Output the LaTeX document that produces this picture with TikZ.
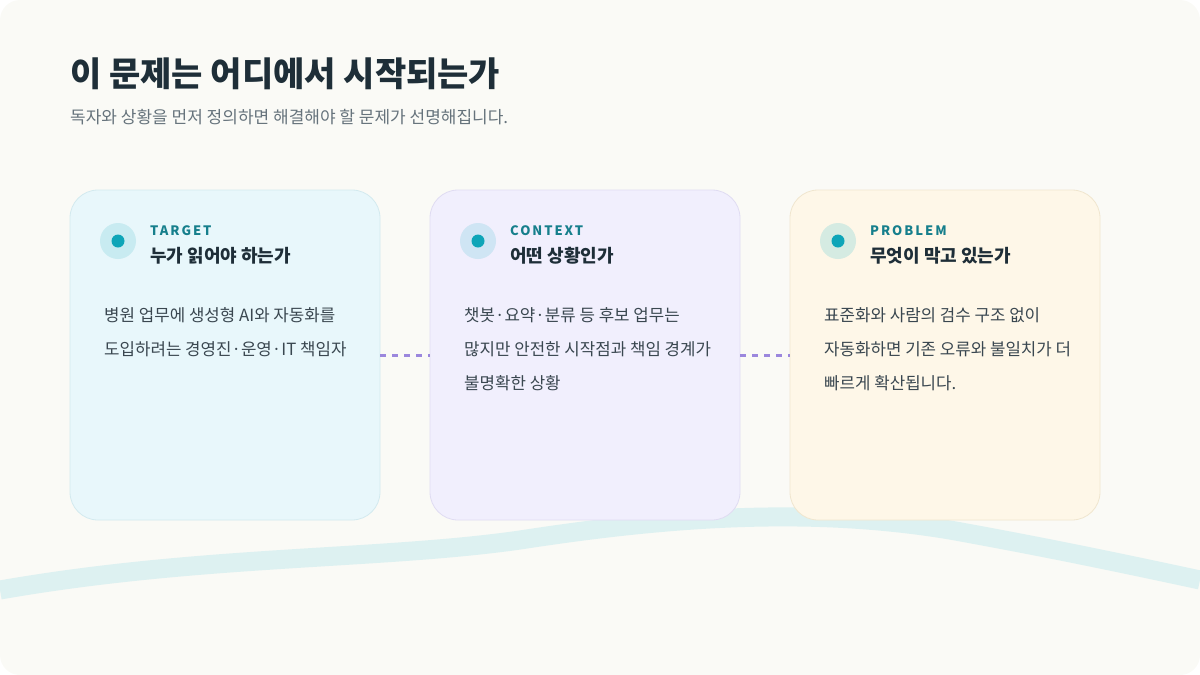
\documentclass[tikz,border=0pt]{standalone}
\usepackage{fontspec}
\setmainfont{Noto Sans CJK KR}
\usetikzlibrary{positioning}
\definecolor{bgc}{HTML}{FAFAF6}
\definecolor{wave}{HTML}{DDF1F1}
\definecolor{ink}{HTML}{1E2E38}
\definecolor{sub}{HTML}{66737C}
\definecolor{body}{HTML}{3A4750}
\definecolor{teal}{HTML}{167F8C}
\definecolor{dot}{HTML}{0EA5B8}
\definecolor{linkc}{HTML}{9B87DD}
\definecolor{fa}{HTML}{E8F7FB}\definecolor{ba}{HTML}{D3EAEF}\definecolor{ra}{HTML}{C8EBF1}
\definecolor{fb}{HTML}{F1EFFD}\definecolor{bb}{HTML}{E0DCF2}\definecolor{rb}{HTML}{CFE5F4}
\definecolor{fc}{HTML}{FEF7E8}\definecolor{bc}{HTML}{F0E6CF}\definecolor{rc}{HTML}{D5EBE2}
\begin{document}
\begin{tikzpicture}[x=1pt,y=-1pt,>=latex]
	\tikzstyle{card}=[rounded corners=28pt,minimum width=310pt,minimum height=330pt,line width=0.8pt,inner sep=0pt]
	\tikzstyle{ring}=[circle,minimum size=36pt,inner sep=0pt]
	\tikzstyle{core}=[circle,fill=dot,minimum size=13pt,inner sep=0pt]
	\tikzstyle{tag}=[anchor=west,inner sep=0pt,text=teal,font=\fontsize{13}{13}\selectfont\bfseries\addfontfeature{LetterSpace=15}]
	\tikzstyle{head}=[anchor=west,inner sep=0pt,text=ink,font=\fontsize{18}{18}\selectfont\bfseries]
	\tikzstyle{txt}=[anchor=north west,inner sep=0pt,text=body,align=left,font=\fontsize{16.8}{34}\selectfont]
	\tikzstyle{link}=[linkc,line width=3pt,dash pattern=on 6pt off 6pt]
	\fill[bgc,rounded corners=20pt] (0,0) rectangle (1200,675);
	\useasboundingbox (0,0) rectangle (1200,675);
	% wave
	\draw[wave,line width=19pt] (0,590) .. controls (200,555) and (380,560) .. (520,540) .. controls (650,520) and (800,505) .. (950,530) .. controls (1050,548) and (1130,565) .. (1200,580);
	% title
	\node[anchor=west,inner sep=0pt,text=ink,font=\fontsize{34}{34}\selectfont\bfseries] (title) at (70,74) {이 문제는 어디에서 시작되는가};
	\node[anchor=west,inner sep=0pt,text=sub,font=\fontsize{17}{17}\selectfont] (lead) at (70,117) {독자와 상황을 먼저 정의하면 해결해야 할 문제가 선명해집니다.};
	% cards
	\node[card,fill=fa,draw=ba] (c1) at (225,355) {};
	\node[card,fill=fb,draw=bb] (c2) at (585,355) {};
	\node[card,fill=fc,draw=bc] (c3) at (945,355) {};
	\draw[link] (c1.east) -- (c2.west);
	\draw[link] (c2.east) -- (c3.west);
	% card 1
	\node[ring,fill=ra] (r1) at (118,241) {};
	\node[core] (d1) at (r1) {};
	\node[tag] (k1) at (150,231) {TARGET};
	\node[head] (h1) at (150,256) {누가 읽어야 하는가};
	\node[txt] (t1) at (104,307) {병원 업무에 생성형 AI와 자동화를\\도입하려는 경영진·운영·IT 책임자};
	% card 2
	\node[ring,fill=rb] (r2) at (478,241) {};
	\node[core] (d2) at (r2) {};
	\node[tag] (k2) at (510,231) {CONTEXT};
	\node[head] (h2) at (510,256) {어떤 상황인가};
	\node[txt] (t2) at (464,307) {챗봇·요약·분류 등 후보 업무는\\많지만 안전한 시작점과 책임 경계가\\불명확한 상황};
	% card 3
	\node[ring,fill=rc] (r3) at (838,241) {};
	\node[core] (d3) at (r3) {};
	\node[tag] (k3) at (870,231) {PROBLEM};
	\node[head] (h3) at (870,256) {무엇이 막고 있는가};
	\node[txt] (t3) at (824,307) {표준화와 사람의 검수 구조 없이\\자동화하면 기존 오류와 불일치가 더\\빠르게 확산됩니다.};
\end{tikzpicture}
\end{document}
